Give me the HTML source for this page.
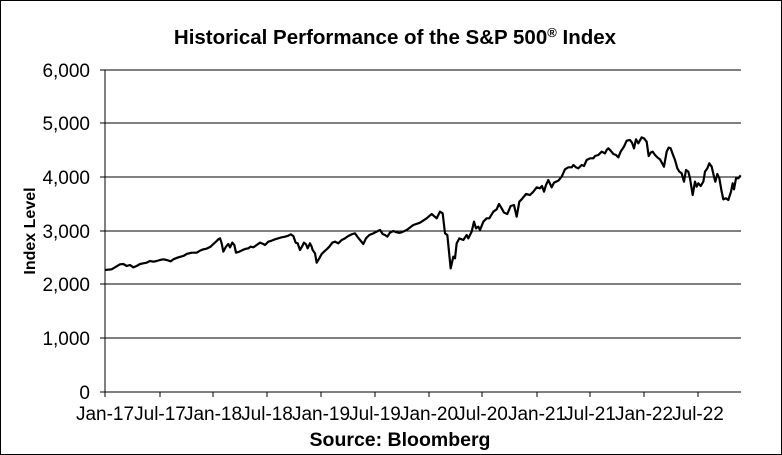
<!DOCTYPE html>
<html><head><style>body{margin:0;background:#fff}svg{display:block}</style></head><body>
<svg width="782" height="455" viewBox="0 0 782 455" xmlns="http://www.w3.org/2000/svg" font-family="Liberation Sans, Arial, sans-serif">
<rect x="0.5" y="0.5" width="781" height="454" fill="#fff" stroke="#000"/>
<text x="395" y="44" text-anchor="middle" font-size="20.5" font-weight="bold">Historical  Performance of the S&amp;P 500<tspan font-size="13" dy="-7">®</tspan><tspan dy="7"> Index</tspan></text>
<g stroke="#000" stroke-width="1">
<line x1="105" y1="70" x2="741" y2="70"/><line x1="105" y1="123" x2="741" y2="123"/>
<line x1="105" y1="177" x2="741" y2="177"/><line x1="105" y1="231" x2="741" y2="231"/>
<line x1="105" y1="284" x2="741" y2="284"/><line x1="105" y1="338" x2="741" y2="338"/>
<line x1="100" y1="392" x2="741" y2="392"/><line x1="105" y1="70" x2="105" y2="397"/>
<line x1="100" y1="70" x2="105" y2="70"/><line x1="100" y1="123" x2="105" y2="123"/><line x1="100" y1="177" x2="105" y2="177"/><line x1="100" y1="231" x2="105" y2="231"/><line x1="100" y1="284" x2="105" y2="284"/><line x1="100" y1="338" x2="105" y2="338"/>
<line x1="160" y1="392" x2="160" y2="397"/><line x1="213" y1="392" x2="213" y2="397"/><line x1="267" y1="392" x2="267" y2="397"/><line x1="321" y1="392" x2="321" y2="397"/><line x1="375" y1="392" x2="375" y2="397"/><line x1="429" y1="392" x2="429" y2="397"/><line x1="482" y1="392" x2="482" y2="397"/><line x1="537" y1="392" x2="537" y2="397"/><line x1="590" y1="392" x2="590" y2="397"/><line x1="644" y1="392" x2="644" y2="397"/><line x1="698" y1="392" x2="698" y2="397"/>
</g>
<g font-size="19" text-anchor="end">
<text x="90" y="77">6,000</text><text x="90" y="130">5,000</text><text x="90" y="184">4,000</text><text x="90" y="238">3,000</text><text x="90" y="291">2,000</text><text x="90" y="345">1,000</text><text x="90" y="399">0</text>
</g>
<g font-size="19" text-anchor="middle">
<text x="105" y="420">Jan-17</text><text x="160" y="420">Jul-17</text><text x="213" y="420">Jan-18</text><text x="267" y="420">Jul-18</text><text x="321" y="420">Jan-19</text><text x="375" y="420">Jul-19</text><text x="429" y="420">Jan-20</text><text x="482" y="420">Jul-20</text><text x="537" y="420">Jan-21</text><text x="590" y="420">Jul-21</text><text x="644" y="420">Jan-22</text><text x="698" y="420">Jul-22</text>
</g>
<text x="400" y="446" text-anchor="middle" font-size="19.5" font-weight="bold">Source: Bloomberg</text>
<text transform="translate(35,231) rotate(-90)" text-anchor="middle" font-size="16" font-weight="bold">Index Level</text>
<g fill="none" stroke="#000" stroke-width="2.2" stroke-linejoin="round">
<polyline transform="translate(0,50) scale(0.33333)" vector-effect="non-scaling-stroke" points="315,660 335,658 345,652 360,643 370,642 380,648 390,645 400,652 410,648 420,642 430,640 440,638 450,633 460,635 470,633 480,630 490,628 500,630 512,634 520,628 535,622 550,618 560,612 575,608 590,608 600,602 610,598 620,596 632,590 640,582 648,575 655,568 660,565 665,580 670,605 678,590 685,582 690,592 697,578 703,585 708,608 718,605 728,600 735,597 745,595 752,590 760,592 770,585 780,578 790,582 795,585 805,575 815,572 825,568 835,565 845,562 855,560 865,557 872,553 880,558 887,578 893,580 900,600 907,588 912,578 918,583 923,595 930,580 935,590 938,600 945,610 950,638 958,625 965,612 972,605 980,598 988,590 997,578 1005,575 1015,580 1025,570 1035,565 1045,558 1055,553 1065,550 1072,560 1080,570 1090,582 1098,565 1108,555 1120,550 1130,545 1140,540 1148,552 1155,555 1162,560 1170,548 1180,543 1190,547 1200,549"/>
<polyline transform="translate(400,50) scale(0.33333)" vector-effect="non-scaling-stroke" points="0,549 20,540 40,525 60,518 80,505 95,492 110,505 120,485 128,490 135,550 142,555 152,655 160,620 165,625 170,580 178,565 190,570 200,555 205,565 215,545 222,515 228,535 235,530 240,540 250,515 260,505 268,505 280,485 290,478 297,462 305,475 312,488 322,492 332,468 342,465 350,500 358,455 365,448 378,432 390,435 400,425 410,412 420,415 426,408 432,425 438,405 445,390 455,412 462,398 475,392 485,380 495,358 505,352 515,352 520,345 528,352 535,355 545,345 552,348 560,330 570,325 580,325 585,318 595,315 605,305 615,310 620,300 625,295 632,302 640,312 648,315 655,322 662,305 672,290 680,272 690,270 696,278 702,295 708,268 715,280 725,262 732,265 740,275 746,318 752,308 758,305 765,315 772,322 780,328 792,350 800,305 806,293 812,295 818,312 825,330 832,355 838,365 845,370 852,395 858,360 865,365 870,385 878,435 885,395 890,410 895,400 902,408 910,395 915,365 922,355 928,340 935,350 942,380 946,395 952,372 958,385 965,425 970,448 978,445 985,450 993,425 998,400 1002,418 1008,385 1015,385 1022,376"/>
</g>
</svg>
</body></html>
